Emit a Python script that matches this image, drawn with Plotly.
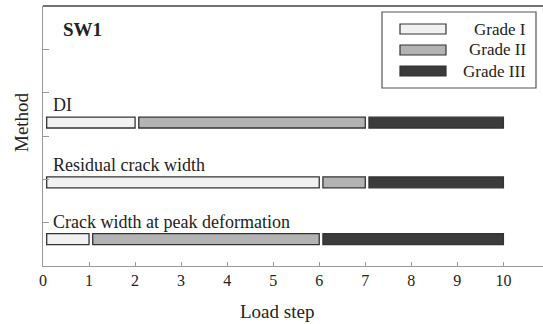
import plotly.graph_objects as go

# ---- data ----
methods = ["DI", "Residual crack width", "Crack width at peak deformation"]
row_y = [3.31, 1.93, 0.62]
grade_names = ["Grade I", "Grade II", "Grade III"]
grade1_start = [0, 0, 0]
grade1_end = [2, 6, 1]
grade2_end = [7, 7, 6]
grade3_end = [10, 10, 10]
x_ticks = list(range(0, 11))

# ---- style ----
W, H = 543, 324
ML, MR, MT, MB = 43, 0, 6, 58
fills = ["#f1f1f1", "#b3b3b3", "#3b3b3b"]
edge = "#333333"
FONT = "Liberation Serif"
TXT = "#222222"
gap = 0.08
bar_h = 0.25

segments = [
    (grade1_start, grade1_end),
    (grade1_end, grade2_end),
    (grade2_end, grade3_end),
]

fig = go.Figure()
for name, fill, (s, e) in zip(grade_names, fills, segments):
    fig.add_trace(go.Bar(
        orientation="h",
        y=row_y,
        base=[a + gap for a in s],
        x=[b - a - gap for a, b in zip(s, e)],
        width=bar_h,
        name=name,
        marker=dict(color=fill, line=dict(color=edge, width=1.3)),
        showlegend=False,
    ))

# method labels above bars
for m, yv in zip(methods, row_y):
    fig.add_annotation(x=0.17, y=yv + bar_h / 2, xref="x", yref="y",
                       text=m, showarrow=False, xanchor="left", yanchor="bottom",
                       yshift=0, font=dict(family=FONT, size=18, color=TXT))

pw = W - ML - MR
ph = H - MT - MB


def px_x(p):
    return (p - ML) / pw


def px_y(p):
    return (H - MB - p) / ph


# top border line
fig.add_shape(type="line", xref="paper", yref="paper", x0=0, x1=1, y0=1, y1=1,
              line=dict(color="#444444", width=1.3))

# manual legend
fig.add_shape(type="rect", xref="paper", yref="paper",
              x0=px_x(382), x1=px_x(536), y0=px_y(88), y1=px_y(12),
              line=dict(color="#555555", width=1.2), fillcolor="white")
for i, (name, fill) in enumerate(zip(grade_names, fills)):
    cy = 29 + i * 21
    fig.add_shape(type="rect", xref="paper", yref="paper",
                  x0=px_x(400), x1=px_x(446), y0=px_y(cy + 5), y1=px_y(cy - 5),
                  line=dict(color=edge, width=1.2), fillcolor=fill)
    fig.add_annotation(x=px_x(528), y=px_y(cy), xref="paper", yref="paper",
                       text=name, showarrow=False, xanchor="right", yanchor="middle",
                       font=dict(family=FONT, size=17, color=TXT))

# panel title
fig.add_annotation(x=px_x(61), y=px_y(29), xref="paper", yref="paper",
                   text="<b>SW1</b>", showarrow=False, xanchor="left", yanchor="middle",
                   font=dict(family=FONT, size=19, color=TXT))

# axis titles
fig.add_annotation(x=px_x(277), y=px_y(311), xref="paper", yref="paper",
                   text="Load step", showarrow=False, xanchor="center", yanchor="middle",
                   font=dict(family=FONT, size=19, color=TXT))
fig.add_annotation(x=px_x(22), y=px_y(122), xref="paper", yref="paper",
                   text="Method", showarrow=False, textangle=-90,
                   xanchor="center", yanchor="middle",
                   font=dict(family=FONT, size=19, color=TXT))

fig.update_layout(
    width=W, height=H,
    margin=dict(l=ML, r=MR, t=MT, b=MB),
    paper_bgcolor="white", plot_bgcolor="white",
    barmode="overlay",
    hovermode=False,
    font=dict(family=FONT, size=16, color=TXT),
)
fig.update_xaxes(range=[0, 10.86], tickvals=x_ticks, ticks="inside", ticklen=4,
                 tickcolor="#999999", showline=True, linecolor="#999999", linewidth=1.3,
                 showgrid=False, zeroline=False, tickfont=dict(family=FONT, size=16, color=TXT))
fig.update_yaxes(range=[0, 6], tickvals=[1, 2, 3, 4, 5], ticks="inside", ticklen=6,
                 tickcolor="#999999", showline=True, linecolor="#999999", linewidth=1.3,
                 showgrid=False, zeroline=False, showticklabels=False)

fig.write_html("out.html", config={"displayModeBar": False},
               post_script="document.body.style.margin='0';document.body.style.overflow='hidden';")
